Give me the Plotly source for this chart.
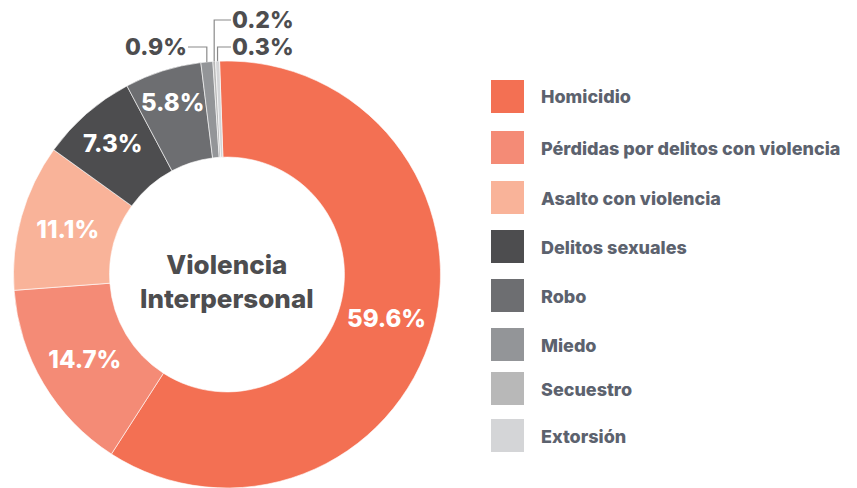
import math
import plotly.graph_objects as go

# ---- data ----
categories = ["Homicidio", "Pérdidas por delitos con violencia", "Asalto con violencia",
              "Delitos sexuales", "Robo", "Miedo", "Secuestro", "Extorsión"]
values = [59.6, 14.7, 11.1, 7.3, 5.8, 0.9, 0.2, 0.3]
colors = ["#F37053", "#F48B76", "#F9B399", "#4D4D4F", "#6D6E71", "#939598", "#B8B8B8", "#D4D5D7"]
center_title = "Violencia<br>Interpersonal"

# ---- layout constants ----
W, H = 857, 488
FONT = "Inter"
WEIGHT = 800
R_PX = 213.5
CX, CY = 227.0, 274.5
ROTATION = -2.0
HOLE = 0.55
small_threshold = 5.0
legend_tops = [80, 131, 181, 230, 279, 328, 372, 419]
outside_label_pos = {"Miedo": (156, 47), "Secuestro": (263, 20), "Extorsión": (263, 47)}


def px(x):
    return x / W


def py(y):
    return 1 - y / H


texts = [f"{v}%" if v >= small_threshold else "" for v in values]

fig = go.Figure(go.Pie(
    labels=categories,
    values=values,
    text=texts,
    textinfo="text",
    textposition="inside",
    insidetextorientation="horizontal",
    sort=False,
    direction="clockwise",
    rotation=ROTATION,
    hole=HOLE,
    marker=dict(colors=colors, line=dict(color="white", width=0.6)),
    textfont=dict(family=FONT, size=24, color="white", weight=WEIGHT),
    hoverinfo="skip",
    showlegend=False,
    domain=dict(x=[px(CX - R_PX), px(CX + R_PX)], y=[py(CY + R_PX), py(CY - R_PX)]),
))

annotations = []
shapes = []

# centre title
annotations.append(dict(
    text=center_title, x=px(CX), y=py(281), xref="paper", yref="paper",
    showarrow=False, xanchor="center", yanchor="middle",
    font=dict(family=FONT, size=26, color="#4D4D4F", weight=WEIGHT),
))

# outside labels for small slices, anchored at the slice mid-angle
total = sum(values)
cum = 0.0
for cat, v in zip(categories, values):
    mid = cum + v / 2
    cum += v
    if cat not in outside_label_pos:
        continue
    ang = math.radians(ROTATION + mid / total * 360.0)
    ax = CX + R_PX * math.sin(ang)
    ay = CY - R_PX * math.cos(ang)
    lx, ly = outside_label_pos[cat]
    annotations.append(dict(
        text=f"{v}%", x=px(lx), y=py(ly), xref="paper", yref="paper",
        showarrow=False, xanchor="center", yanchor="middle",
        font=dict(family=FONT, size=23, color="#4D4D4F", weight=WEIGHT),
    ))
    x0 = lx + 32 if lx < ax else lx - 32
    path = f"M {px(x0)} {py(ly)} L {px(ax)} {py(ly)} L {px(ax)} {py(ay)}"
    shapes.append(dict(type="path", path=path, xref="paper", yref="paper",
                       line=dict(color="#8A8A8A", width=1.2)))

# custom legend
for cat, col, top in zip(categories, colors, legend_tops):
    shapes.append(dict(type="rect", xref="paper", yref="paper",
                       x0=px(491), x1=px(524), y0=py(top + 33), y1=py(top),
                       fillcolor=col, line=dict(width=0)))
    annotations.append(dict(
        text=cat, x=px(539), y=py(top + 17), xref="paper", yref="paper",
        showarrow=False, xanchor="left", yanchor="middle",
        font=dict(family=FONT, size=18, color="#5C626E", weight=WEIGHT),
    ))

fig.update_layout(
    width=W, height=H,
    margin=dict(l=0, r=0, t=0, b=0),
    paper_bgcolor="white",
    plot_bgcolor="white",
    annotations=annotations,
    shapes=shapes,
    uniformtext=dict(minsize=24, mode="show"),
)

fig.write_html("out.html",
               config={"displayModeBar": False},
               post_script="document.body.style.margin='0';document.body.style.overflow='hidden';")
